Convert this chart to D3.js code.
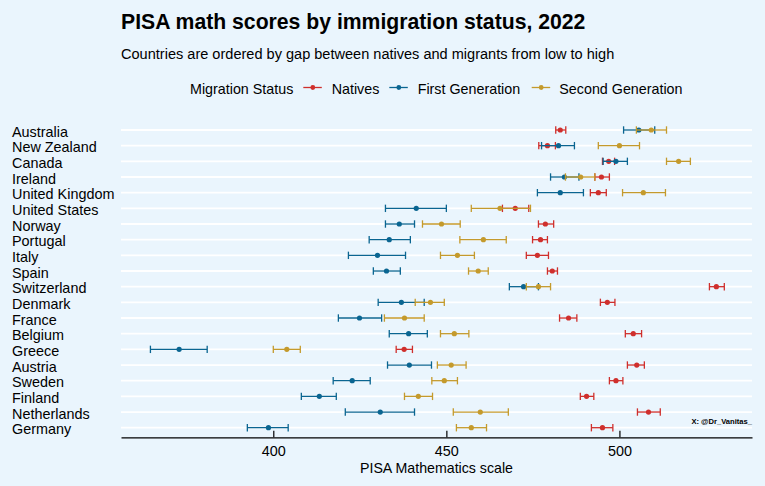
<!DOCTYPE html>
<html><head><meta charset="utf-8">
<script src="https://cdn.jsdelivr.net/npm/d3@7"></script>
<style>
html,body{margin:0;padding:0;background:#eaf5fd;}
svg{display:block;font-family:"Liberation Sans",Arial,sans-serif;}
</style></head>
<body>
<svg id="c" width="765" height="486"></svg>
<script>
const countries = ["Australia","New Zealand","Canada","Ireland","United Kingdom","United States","Norway","Portugal","Italy","Spain","Switzerland","Denmark","France","Belgium","Greece","Austria","Sweden","Finland","Netherlands","Germany"];
// [mean, lower, upper]
const natives = [[482.9,481.6,484.5],[479.2,476.7,481.5],[496.9,495.1,498.6],[494.8,492.9,497.1],[493.9,491.6,496.2],[469.9,466.2,473.8],[478.6,476.6,481.0],[477.2,474.9,479.2],[476.3,473.1,479.5],[480.6,479.2,482.1],[528.0,526.0,530.3],[496.5,494.5,498.7],[485.3,482.7,487.7],[504.0,501.7,506.4],[437.8,435.5,440.2],[505.0,502.3,507.2],[499.0,497.1,501.0],[490.5,488.7,492.6],[508.4,505.2,511.8],[495.1,491.9,498.1]];
const firstGen = [[505.6,501.2,510.2],[482.4,477.5,487.0],[499.0,495.3,502.3],[484.1,480.1,488.3],[482.9,476.3,489.6],[441.3,432.4,450.0],[436.4,432.4,440.8],[433.5,427.7,439.6],[430.1,421.7,438.2],[432.7,428.9,436.7],[472.3,468.2,476.6],[437.0,430.3,443.6],[424.9,418.8,431.3],[439.1,433.5,444.5],[372.8,364.5,380.9],[439.3,433.0,445.7],[422.8,417.3,428.0],[413.3,408.1,418.2],[430.9,420.8,440.8],[398.6,392.5,404.3]];
const secondGen = [[509.2,504.9,513.6],[500.0,493.9,505.8],[517.1,513.6,520.5],[488.8,484.4,492.9],[506.9,500.9,513.3],[465.5,457.2,474.3],[448.6,443.1,454.0],[460.7,453.9,467.3],[453.2,448.3,458.1],[459.2,456.4,462.1],[476.6,473.1,480.1],[445.4,441.0,449.4],[437.9,432.1,443.6],[452.3,448.3,456.5],[403.9,400.0,407.8],[451.4,447.4,455.7],[449.4,445.8,453.2],[441.9,437.9,446.0],[459.8,452.0,467.9],[457.2,452.9,461.6]];
const seriesNames = ["Natives","First Generation","Second Generation"];
const seriesColors = ["#cf2f2c","#0a6591","#c49a2c"];
const xTicks = [400,450,500];

const svg = d3.select("#c");
const x = d3.scaleLinear().domain([356, 538.3]).range([121, 752]);
const y = d3.scalePoint().domain(countries).range([130, 427.7]);

// title
svg.append("text").attr("x",121).attr("y",29).attr("font-size",21.2).attr("font-weight","bold").attr("fill","#000")
  .text("PISA math scores by immigration status, 2022");
svg.append("text").attr("x",121).attr("y",59).attr("font-size",14.55).attr("fill","#000")
  .text("Countries are ordered by gap between natives and migrants from low to high");

// legend
const lg = svg.append("g").attr("font-size",14.3);
lg.append("text").attr("x",190).attr("y",93.5).text("Migration Status");
const legPos = [[303.3,331.7],[389.3,417.7],[531.7,559.3]];
seriesNames.forEach((n,i)=>{
  const [lx,tx] = legPos[i];
  lg.append("line").attr("x1",lx).attr("x2",lx+18.5).attr("y1",87.5).attr("y2",87.5).attr("stroke",seriesColors[i]).attr("stroke-width",1.3);
  lg.append("circle").attr("cx",lx+9.5).attr("cy",87.5).attr("r",2.4).attr("fill",seriesColors[i]);
  lg.append("text").attr("x",tx).attr("y",93.5).text(n);
});

// gridlines
svg.append("g").selectAll("line").data(countries).join("line")
  .attr("x1",121).attr("x2",752).attr("y1",d=>y(d)).attr("y2",d=>y(d))
  .attr("stroke","#fff").attr("stroke-width",1.8);

// country labels
svg.append("g").attr("font-size",14.4).selectAll("text").data(countries).join("text")
  .attr("x",12).attr("y",d=>y(d)+6.5).text(d=>d);

// axis
const ax = svg.append("g").attr("transform","translate(0,437.3)")
  .call(d3.axisBottom(x).tickValues(xTicks).tickSize(-6.5).tickSizeOuter(0).tickPadding(18));
ax.select(".domain").attr("stroke","#000").attr("stroke-width",1.2);
ax.selectAll(".tick line").attr("stroke","#000").attr("stroke-width",1.2);
ax.selectAll(".tick text").attr("font-size",14.4).attr("font-family","Liberation Sans, Arial, sans-serif").attr("fill","#000").attr("dy","0.05em");
svg.append("text").attr("x",436.5).attr("y",473.2).attr("text-anchor","middle").attr("font-size",14.2).text("PISA Mathematics scale");

// data series
const allSeries = [natives, firstGen, secondGen];
allSeries.forEach((data,si)=>{
  const g = svg.append("g").attr("stroke",seriesColors[si]).attr("fill",seriesColors[si]);
  data.forEach((v,i)=>{
    const cy = y(countries[i]);
    g.append("line").attr("x1",x(v[1])).attr("x2",x(v[2])).attr("y1",cy).attr("y2",cy).attr("stroke-width",1.3);
    g.append("line").attr("x1",x(v[1])).attr("x2",x(v[1])).attr("y1",cy-3.7).attr("y2",cy+3.7).attr("stroke-width",1.3);
    g.append("line").attr("x1",x(v[2])).attr("x2",x(v[2])).attr("y1",cy-3.7).attr("y2",cy+3.7).attr("stroke-width",1.3);
    g.append("circle").attr("cx",x(v[0])).attr("cy",cy).attr("r",2.6).attr("stroke","none");
  });
});

// watermark
svg.append("text").attr("x",752).attr("y",424).attr("text-anchor","end").attr("font-size",7.6).attr("font-weight","bold").text("X: @Dr_Vanitas_");
</script>
</body></html>
